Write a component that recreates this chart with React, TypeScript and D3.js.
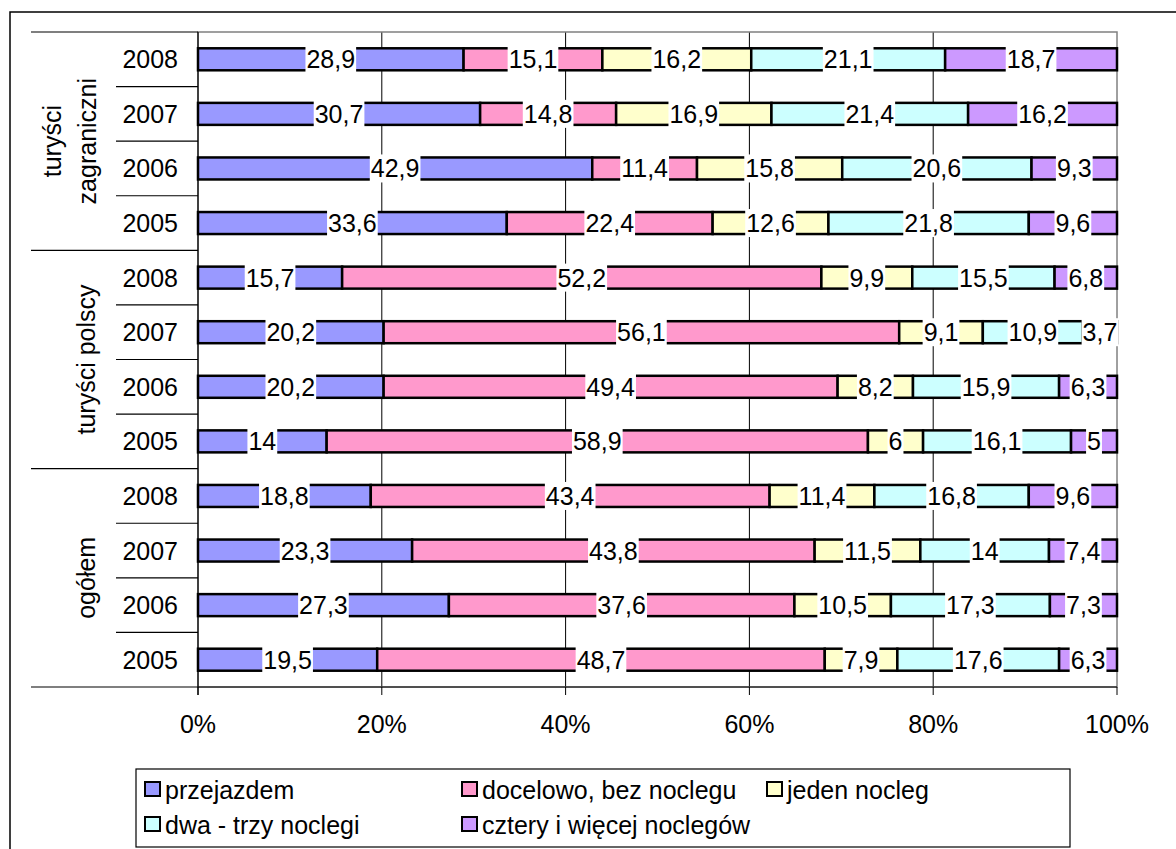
import React, { useEffect, useRef } from "react";
import * as d3 from "d3";

// categories (top to bottom)
const groups = ["turyści zagraniczni", "turyści polscy", "ogółem"];
const groupLines = [["turyści", "zagraniczni"], ["turyści polscy"], ["ogółem"]];
const years = ["2008", "2007", "2006", "2005"];

// series, in stacking order
const seriesNames = [
  "przejazdem",
  "docelowo, bez noclegu",
  "jeden nocleg",
  "dwa - trzy noclegi",
  "cztery i więcej noclegów",
];
const seriesColors = ["#9999FF", "#FF99CC", "#FFFFCC", "#CCFFFF", "#CC99FF"];

// values per row: zagraniczni 2008..2005, polscy 2008..2005, ogółem 2008..2005
const przejazdem = [28.9, 30.7, 42.9, 33.6, 15.7, 20.2, 20.2, 14, 18.8, 23.3, 27.3, 19.5];
const docelowo = [15.1, 14.8, 11.4, 22.4, 52.2, 56.1, 49.4, 58.9, 43.4, 43.8, 37.6, 48.7];
const jedenNocleg = [16.2, 16.9, 15.8, 12.6, 9.9, 9.1, 8.2, 6, 11.4, 11.5, 10.5, 7.9];
const dwaTrzyNoclegi = [21.1, 21.4, 20.6, 21.8, 15.5, 10.9, 15.9, 16.1, 16.8, 14, 17.3, 17.6];
const czteryWiecej = [18.7, 16.2, 9.3, 9.6, 6.8, 3.7, 6.3, 5, 9.6, 7.4, 7.3, 6.3];

const xTicks = [0, 0.2, 0.4, 0.6, 0.8, 1];

const FONT = "'Liberation Sans', Arial, sans-serif";

export default function App() {
  const svgRef = useRef<SVGSVGElement>(null);

  useEffect(() => {
    if (!svgRef.current) return;
    const W = 1176, H = 849;
    const svg = d3.select(svgRef.current);
    svg.selectAll("*").remove();
    svg.attr("width", W).attr("height", H);

    const plot = { left: 198, right: 1117, top: 32, bottom: 687 };

    const seriesValues = [przejazdem, docelowo, jedenNocleg, dwaTrzyNoclegi, czteryWiecej];
    const rows = groups.flatMap((g, gi) =>
      years.map((y, yi) => {
        const i = gi * years.length + yi;
        const row: any = { key: `${g}|${y}`, group: g, year: y };
        seriesNames.forEach((s, si) => (row[s] = seriesValues[si][i]));
        return row;
      })
    );

    const stacked = d3.stack<any>().keys(seriesNames).offset(d3.stackOffsetExpand)(rows);

    const x = d3.scaleLinear().domain([0, 1]).range([plot.left, plot.right]);
    const pad = 0.597;
    const y = d3
      .scaleBand<string>()
      .domain(rows.map(r => r.key))
      .range([plot.top, plot.bottom])
      .paddingInner(pad)
      .paddingOuter(pad / 2);
    const step = y.step();

    svg.append("rect").attr("width", W).attr("height", H).attr("fill", "#fff");

    // outer chart frame (only top and left are inside the picture)
    svg.append("path")
      .attr("d", `M10,${H} L10,12 L${W},12`)
      .attr("fill", "none")
      .attr("stroke", "#000")
      .attr("stroke-width", 1.5);

    // vertical gridlines
    svg.append("g")
      .selectAll("line")
      .data(xTicks.slice(1, -1))
      .join("line")
      .attr("x1", d => x(d)).attr("x2", d => x(d))
      .attr("y1", plot.top).attr("y2", plot.bottom)
      .attr("stroke", "#000").attr("stroke-width", 1);

    // plot area border
    svg.append("rect")
      .attr("x", plot.left).attr("y", plot.top)
      .attr("width", plot.right - plot.left).attr("height", plot.bottom - plot.top)
      .attr("fill", "none").attr("stroke", "#808080").attr("stroke-width", 1.5);

    // bars
    const barG = svg.append("g");
    stacked.forEach((layer, si) => {
      barG.append("g")
        .selectAll("rect")
        .data(layer)
        .join("rect")
        .attr("x", d => x(d[0]))
        .attr("width", d => x(d[1]) - x(d[0]))
        .attr("y", d => y(d.data.key)!)
        .attr("height", y.bandwidth())
        .attr("fill", seriesColors[si])
        .attr("stroke", "#000")
        .attr("stroke-width", 2.5);
    });

    // data labels with white background
    const labelG = svg.append("g");
    stacked.forEach(layer => {
      layer.forEach(d => {
        const cx = x((d[0] + d[1]) / 2);
        const cy = y(d.data.key)! + y.bandwidth() / 2;
        const v = d.data[layer.key] as number;
        const lg = labelG.append("g");
        const bg = lg.append("rect").attr("fill", "#fff");
        const t = lg.append("text")
          .attr("x", cx).attr("y", cy).attr("dy", "0.36em")
          .attr("text-anchor", "middle")
          .attr("font-family", FONT).attr("font-size", 25)
          .attr("fill", "#000")
          .text(String(v).replace(".", ","));
        const w = (t.node() as SVGTextElement).getComputedTextLength();
        bg.attr("x", cx - w / 2 - 1).attr("width", w + 2)
          .attr("y", cy - 14).attr("height", 28);
      });
    });

    // value axis (bottom)
    svg.append("line")
      .attr("x1", plot.left).attr("x2", plot.right)
      .attr("y1", plot.bottom).attr("y2", plot.bottom)
      .attr("stroke", "#000").attr("stroke-width", 1.2);
    svg.append("g")
      .selectAll("line")
      .data(xTicks)
      .join("line")
      .attr("x1", d => x(d)).attr("x2", d => x(d))
      .attr("y1", plot.bottom).attr("y2", plot.bottom + 8)
      .attr("stroke", "#000").attr("stroke-width", 1);
    svg.append("g")
      .selectAll("text")
      .data(xTicks)
      .join("text")
      .attr("x", d => x(d)).attr("y", 733)
      .attr("text-anchor", "middle")
      .attr("font-family", FONT).attr("font-size", 25)
      .text(d => d3.format(".0%")(d));

    // category axis (left)
    svg.append("line")
      .attr("x1", plot.left).attr("x2", plot.left)
      .attr("y1", plot.top).attr("y2", plot.bottom + 8)
      .attr("stroke", "#000").attr("stroke-width", 1.2);

    // separators between years and groups
    const boundaries = d3.range(rows.length + 1);
    svg.append("g")
      .selectAll("line")
      .data(boundaries)
      .join("line")
      .attr("x1", i => (i % years.length === 0 ? 31 : 116))
      .attr("x2", plot.left)
      .attr("y1", i => plot.top + i * step)
      .attr("y2", i => plot.top + i * step)
      .attr("stroke", "#000").attr("stroke-width", 1.2);

    // year labels
    svg.append("g")
      .selectAll("text")
      .data(rows)
      .join("text")
      .attr("x", 178)
      .attr("y", d => y(d.key)! + y.bandwidth() / 2)
      .attr("dy", "0.36em")
      .attr("text-anchor", "end")
      .attr("font-family", FONT).attr("font-size", 25)
      .text(d => d.year);

    // group labels (rotated)
    groupLines.forEach((lines, gi) => {
      const cy = plot.top + (gi * years.length + years.length / 2) * step;
      const xs = lines.length === 2 ? [61, 96] : [95];
      lines.forEach((ln, li) => {
        svg.append("text")
          .attr("transform", `translate(${xs[li]},${cy}) rotate(-90)`)
          .attr("text-anchor", "middle")
          .attr("font-family", FONT).attr("font-size", 25)
          .text(ln);
      });
    });

    // legend
    const legend = svg.append("g");
    legend.append("rect")
      .attr("x", 136).attr("y", 769)
      .attr("width", 1070 - 136).attr("height", 847 - 769)
      .attr("fill", "#fff").attr("stroke", "#000").attr("stroke-width", 1.2);
    const legendX = [165, 482, 787];
    const legendY = [799, 834];
    seriesNames.forEach((s, i) => {
      const col = i < 3 ? i : i - 3;
      const row = i < 3 ? 0 : 1;
      const tx = legendX[col];
      const ty = legendY[row];
      legend.append("rect")
        .attr("x", tx - 20).attr("y", ty - 17)
        .attr("width", 15).attr("height", 14)
        .attr("fill", seriesColors[i]).attr("stroke", "#000").attr("stroke-width", 2);
      legend.append("text")
        .attr("x", tx).attr("y", ty)
        .attr("font-family", FONT).attr("font-size", 25)
        .text(s);
    });
  }, []);

  return (
    <svg
      ref={svgRef}
      style={{ position: "absolute", left: 0, top: 0, display: "block" }}
    />
  );
}
